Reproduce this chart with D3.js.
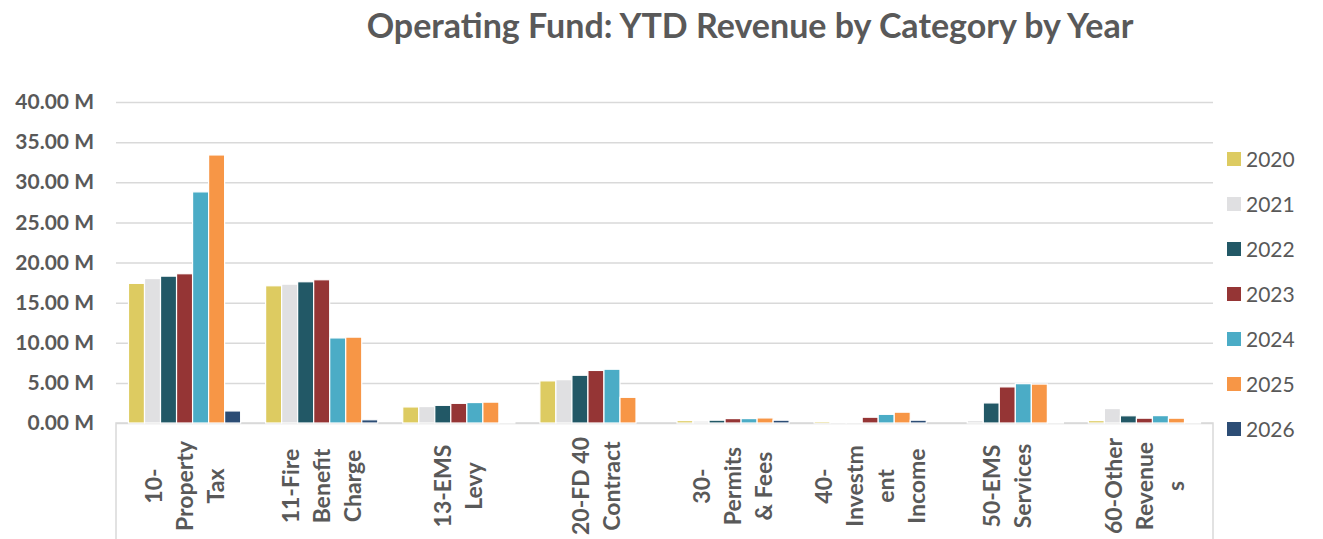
<!DOCTYPE html>
<html>
<head>
<meta charset="UTF-8">
<title>Operating Fund: YTD Revenue by Category by Year</title>
<style>
  body { margin: 0; background: #fff; }
  svg text { font-family: Lato, "Open Sans", sans-serif; fill: #595959; }
</style>
</head>
<body>
<div id="chart"></div>
<script src="https://cdn.jsdelivr.net/npm/d3@7/dist/d3.min.js"></script>
<script>
// categories and the way Excel wrapped their labels
var categories = ["10-Property Tax", "11-Fire Benefit Charge", "13-EMS Levy", "20-FD 40 Contract",
                  "30-Permits & Fees", "40-Investment Income", "50-EMS Services", "60-Other Revenues"];
var tickLines = [["10-", "Property", "Tax"], ["11-Fire", "Benefit", "Charge"], ["13-EMS", "Levy"],
                 ["20-FD 40", "Contract"], ["30-", "Permits", "& Fees"], ["40-", "Investm", "ent", "Income"],
                 ["50-EMS", "Services"], ["60-Other", "Revenue", "s"]];
var years = ["2020", "2021", "2022", "2023", "2024", "2025", "2026"];

// values in millions
var y2020 = [17.4, 17.1, 2.0, 5.25, 0.3, 0.2, 0, 0.3];
var y2021 = [18.0, 17.3, 2.05, 5.4, 0.25, 0.12, 0.3, 1.8];
var y2022 = [18.3, 17.6, 2.2, 5.95, 0.35, 0.12, 2.5, 0.9];
var y2023 = [18.6, 17.85, 2.45, 6.55, 0.55, 0.72, 4.5, 0.6];
var y2024 = [28.8, 10.6, 2.55, 6.7, 0.55, 1.08, 4.9, 0.92];
var y2025 = [33.4, 10.7, 2.6, 3.2, 0.63, 1.35, 4.85, 0.6];
var y2026 = [1.5, 0.4, 0.05, 0, 0.35, 0.35, 0.12, 0.1];
var yTicks = [0, 5, 10, 15, 20, 25, 30, 35, 40];

var colors = ["#DDCB61", "#E0E0E2", "#225866", "#953535", "#4BACC6", "#F79646", "#2C4D75"];
var series = [y2020, y2021, y2022, y2023, y2024, y2025, y2026];

var width = 1323, height = 539;
var plot = { left: 116, right: 1213, top: 102, bottom: 423 };

var svg = d3.select("#chart").append("svg")
    .attr("width", width)
    .attr("height", height);

svg.append("text")
    .attr("x", 750)
    .attr("y", 38)
    .attr("text-anchor", "middle")
    .attr("font-size", "34px")
    .attr("font-weight", "bold")
    .text("Operating Fund: YTD Revenue by Category by Year");

var x0 = d3.scaleBand()
    .domain(categories)
    .range([plot.left, plot.right])
    .paddingInner(0.182)
    .paddingOuter(0.091);

var x1 = d3.scaleBand()
    .domain(years)
    .range([0, x0.bandwidth()])
    .padding(0);

var y = d3.scaleLinear()
    .domain([0, 40])
    .range([plot.bottom, plot.top]);

// gridlines + y labels
var yAxis = d3.axisLeft(y)
    .tickValues(yTicks)
    .tickSize(-(plot.right - plot.left))
    .tickPadding(22)
    .tickFormat(function(d) { return d3.format(".2f")(d) + " M"; });

var gy = svg.append("g")
    .attr("transform", "translate(" + plot.left + ",0)")
    .call(yAxis);
gy.select(".domain").remove();
gy.selectAll("line")
    .attr("stroke", "#D9D9D9")
    .attr("stroke-width", 1.5);
gy.selectAll("text")
    .attr("font-size", "21px")
    .attr("font-weight", "bold")
    .attr("fill", "#595959");

// box around the category axis
svg.append("path")
    .attr("d", "M" + plot.left + "," + height + "V" + plot.bottom + "H" + plot.right + "V" + height)
    .attr("fill", "none")
    .attr("stroke", "#D9D9D9")
    .attr("stroke-width", 1.5);

// bars
var groups = svg.selectAll(".cat")
    .data(categories)
    .join("g")
    .attr("class", "cat")
    .attr("transform", function(d) { return "translate(" + x0(d) + ",0)"; });

groups.selectAll("rect")
    .data(function(d, i) {
        return years.map(function(yr, j) { return { year: yr, value: series[j][i], color: colors[j] }; });
    })
    .join("rect")
    .attr("x", function(d) { return x1(d.year); })
    .attr("width", x1.bandwidth())
    .attr("y", function(d) { return y(d.value); })
    .attr("height", function(d) { return y(0) - y(d.value); })
    .attr("fill", function(d) { return d.color; })
    .attr("stroke", "#fff")
    .attr("stroke-width", 1.2);

// category labels, rotated and wrapped
var lineGap = 31;
groups.each(function(d, i) {
    var g = d3.select(this);
    var lines = tickLines[i];
    var cx = x0.bandwidth() / 2;
    lines.forEach(function(t, k) {
        var lx = cx + (k - (lines.length - 1) / 2) * lineGap;
        g.append("text")
            .attr("transform", "translate(" + lx + ",486) rotate(-90)")
            .attr("text-anchor", "middle")
            .attr("dy", "0.35em")
            .attr("font-size", "23px")
            .attr("font-weight", "bold")
            .text(t);
    });
});

// legend
var legend = svg.selectAll(".legend")
    .data(years)
    .join("g")
    .attr("class", "legend")
    .attr("transform", function(d, i) { return "translate(1227," + (152 + i * 45) + ")"; });

legend.append("rect")
    .attr("width", 14)
    .attr("height", 14)
    .attr("fill", function(d, i) { return colors[i]; });

legend.append("text")
    .attr("x", 19)
    .attr("y", 7)
    .attr("dy", "0.36em")
    .attr("font-size", "21px")
    .text(function(d) { return d; });
</script>
</body>
</html>
